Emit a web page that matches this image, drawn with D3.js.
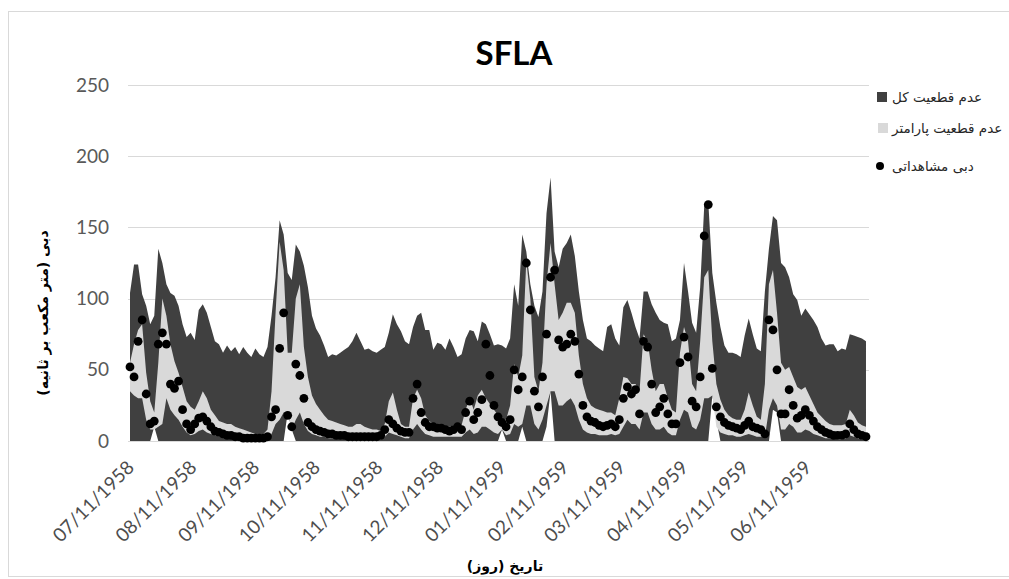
<!DOCTYPE html>
<html>
<head>
<meta charset="utf-8">
<script src="https://cdn.jsdelivr.net/npm/d3@7"></script>
<style>
  body { margin: 0; background: #fff; }
  svg { display: block; }
</style>
</head>
<body>
<svg id="chart" width="1009" height="579"></svg>
<script>
// Daily record sampled every 2 days, starting 07/11/1958
const firstDay = "07/11/1958";
const stepDays = 2;

// Total uncertainty band (upper / lower), m3/s
const totalUpper = [
  104,124,124,103,95,82,88,135,125,110,104,102,95,82,73,76,
  71,92,96,90,80,70,68,62,67,63,66,61,66,62,59,65,
  61,59,66,88,115,155,145,118,113,138,133,123,108,88,79,74,
  67,59,61,60,62,64,66,70,76,70,64,65,63,62,64,66,
  76,89,82,77,70,68,80,88,90,78,78,64,69,68,64,72,
  66,59,61,72,78,77,70,84,82,75,67,68,67,65,72,110,
  95,145,133,110,95,87,105,160,185,133,122,135,139,145,130,105,
  85,72,70,67,65,63,80,82,72,67,94,99,90,80,72,105,
  105,96,90,85,83,82,70,72,85,125,105,83,76,108,165,168,
  118,97,80,67,62,62,61,59,74,86,75,65,63,105,135,158,
  155,125,122,115,103,99,88,93,89,85,80,72,67,68,68,63,
  65,64,75,74,73,72,70
];
const totalLower = [
  0,0,0,0,0,0,10,0,0,0,0,0,0,0,0,0,
  0,0,0,0,0,0,0,0,0,0,0,0,0,0,0,0,
  0,0,0,0,0,0,0,20,8,0,0,0,0,0,0,0,
  0,0,0,0,0,0,0,0,0,0,0,0,0,0,0,0,
  0,0,0,0,0,0,0,0,0,0,0,0,0,0,0,0,
  0,0,0,0,0,0,0,0,0,0,0,0,8,0,0,0,
  0,10,0,0,0,0,0,10,35,0,0,0,0,0,0,0,
  0,0,0,0,0,0,0,0,0,0,0,0,0,0,0,0,
  0,0,0,0,0,0,0,0,0,0,0,0,0,0,0,0,
  32,15,0,0,0,0,0,0,0,0,0,0,0,0,0,22,
  20,0,0,0,0,0,0,0,0,0,0,0,0,0,0,0,
  0,0,0,0,0,0,0
];

// Parameter uncertainty band (upper / lower)
const paramUpper = [
  55,68,78,82,48,28,20,55,100,88,68,56,48,38,28,24,
  22,28,35,30,22,18,14,13,12,12,10,9,8,7,6,5,
  5,5,8,35,90,140,120,62,62,100,110,66,45,32,26,22,
  18,15,14,13,12,11,10,10,12,12,10,9,8,8,7,12,
  28,34,22,12,10,10,30,36,30,18,14,12,11,10,10,10,
  11,12,11,22,30,22,32,36,30,26,22,18,16,15,25,54,
  45,60,127,100,45,35,55,110,139,110,85,90,97,97,90,60,
  40,30,25,23,22,21,20,20,18,30,45,44,40,40,35,75,
  70,50,35,40,40,30,22,20,62,80,70,40,35,70,115,120,
  70,40,29,22,18,16,15,15,22,34,25,17,15,40,110,120,
  90,55,50,52,45,38,36,38,32,26,20,17,14,12,11,11,
  11,12,22,18,13,11,10
];
const paramLower = [
  35,32,30,30,15,8,8,10,12,30,22,18,15,10,6,4,
  5,7,8,6,5,4,3,3,2,2,2,1,1,1,1,1,
  1,1,1,5,12,15,20,20,8,15,20,12,7,5,4,3,
  3,2,2,2,2,2,1,1,1,1,1,1,1,1,1,3,
  6,5,4,3,2,2,8,12,8,5,4,3,3,3,3,3,
  3,3,3,6,8,5,6,10,10,8,6,5,8,4,5,12,
  10,12,25,25,12,8,15,25,35,35,25,25,28,30,25,15,
  8,6,5,5,4,4,4,5,4,5,10,15,12,12,8,20,
  20,12,8,8,10,6,4,4,15,22,20,10,8,15,30,30,
  32,10,6,5,4,4,3,3,4,5,4,3,3,3,22,30,
  25,8,8,12,10,6,6,8,7,5,4,3,2,2,2,1,
  1,2,4,3,2,1,1
];

// Observed discharge
const observed = [
  52,45,70,85,33,12,14,68,76,68,40,37,42,22,12,8,
  12,16,17,14,10,7,6,5,4,4,3,3,2,2,2,2,
  2,2,3,17,22,65,90,18,10,54,46,30,13,10,8,7,
  6,5,5,4,4,4,3,3,3,3,3,3,3,3,4,8,
  15,12,9,7,6,6,30,40,20,13,10,10,9,9,8,7,
  8,10,8,20,28,15,20,29,68,46,25,17,13,10,15,50,
  36,45,125,92,35,24,45,75,115,120,71,66,68,75,70,47,
  25,17,14,13,11,10,11,12,10,15,30,38,33,36,19,70,
  66,40,20,24,30,19,12,12,55,73,59,28,24,45,144,166,
  51,24,17,13,11,10,9,8,11,14,10,9,8,5,85,78,
  50,19,19,36,25,16,18,22,18,14,10,8,6,5,4,4,
  4,5,12,8,5,4,3
];

const tickLabels = [
  "07/11/1958","08/11/1958","09/11/1958","10/11/1958","11/11/1958","12/11/1958",
  "01/11/1959","02/11/1959","03/11/1959","04/11/1959","05/11/1959","06/11/1959"
];
const yTickValues = [0, 50, 100, 150, 200, 250];

const legendLabels = ["عدم قطعیت کل", "عدم قطعیت پارامتر", "دبی مشاهداتی"];
const chartTitle = "SFLA";
const xTitle = "تاریخ (روز)";
const yTitle = "دبی (متر مکعب بر ثانیه)";

// ---- drawing ----
const parse = d3.timeParse("%m/%d/%Y");
const start = parse(firstDay);
const rows = observed.map((v, i) => ({
  date: d3.timeDay.offset(start, i * stepDays),
  tu: totalUpper[i], tl: totalLower[i],
  pu: paramUpper[i], pl: paramLower[i],
  obs: v
}));

const svg = d3.select("#chart");
const plot = { left: 128, right: 869, top: 85, bottom: 441 };

const x = d3.scaleTime()
  .domain([start, parse("07/11/1959")])
  .range([130, 868]);
const y = d3.scaleLinear().domain([0, 250]).range([plot.bottom, plot.top]);

const darkFill = "#404040";
const lightFill = "#d9d9d9";
const gridColor = "#d9d9d9";
const tickColor = "#4d4d4d";

// chart frame
svg.append("rect")
  .attr("x", 8.5).attr("y", 11.5).attr("width", 1010).attr("height", 565)
  .attr("fill", "#fff").attr("stroke", "#d9d9d9").attr("stroke-width", 1);

// horizontal gridlines (the zero line doubles as the category axis line)
svg.append("g").selectAll("line").data(yTickValues).join("line")
  .attr("x1", plot.left).attr("x2", plot.right)
  .attr("y1", d => Math.round(y(d)) + 0.5).attr("y2", d => Math.round(y(d)) + 0.5)
  .attr("stroke", gridColor).attr("stroke-width", 1);

// total uncertainty band
svg.append("path").datum(rows)
  .attr("fill", darkFill)
  .attr("d", d3.area().x(d => x(d.date)).y0(d => y(d.tl)).y1(d => y(d.tu)));

// parameter uncertainty band
svg.append("path").datum(rows)
  .attr("fill", lightFill)
  .attr("d", d3.area().x(d => x(d.date)).y0(d => y(d.pl)).y1(d => y(d.pu)));

// observed discharge markers
svg.append("g").selectAll("circle").data(rows).join("circle")
  .attr("cx", d => x(d.date)).attr("cy", d => y(d.obs))
  .attr("r", 4.4).attr("fill", "#000");

// y axis
const yAxis = svg.append("g")
  .attr("transform", `translate(${plot.left},0)`)
  .call(d3.axisLeft(y).tickValues(yTickValues).tickSize(0).tickPadding(19));
yAxis.select(".domain").remove();
yAxis.selectAll("text")
  .attr("fill", "#595959")
  .style("font-family", "Lato, 'Open Sans', sans-serif")
  .style("font-size", "19px");

// x axis (labels only; the baseline is the zero gridline under the bands)
const tickDates = tickLabels.map(parse);
const xAxis = svg.append("g")
  .attr("transform", `translate(0,${plot.bottom})`)
  .call(d3.axisBottom(x).tickValues(tickDates).tickSize(0)
    .tickFormat((d, i) => tickLabels[i]));
xAxis.select(".domain").remove();
xAxis.selectAll("text")
  .attr("x", 0).attr("y", 0).attr("dy", "0.35em")
  .attr("text-anchor", "end")
  .attr("transform", "translate(0,23) rotate(-45)")
  .attr("fill", tickColor)
  .style("font-family", "Lato, 'Open Sans', sans-serif")
  .style("font-size", "19px");

// title
svg.append("text")
  .attr("x", 514).attr("y", 65).attr("text-anchor", "middle")
  .style("font-family", "Lato, 'Open Sans', sans-serif")
  .style("font-size", "33px").style("font-weight", "bold")
  .attr("fill", "#000").text(chartTitle);

// axis titles
svg.append("text")
  .attr("transform", "translate(48,313) rotate(-90)")
  .attr("text-anchor", "middle")
  .style("font-family", "'DejaVu Sans', sans-serif")
  .style("font-size", "14px").style("font-weight", "bold")
  .attr("fill", "#000").text(yTitle);

svg.append("text")
  .attr("x", 505).attr("y", 571).attr("text-anchor", "middle")
  .style("font-family", "'DejaVu Sans', sans-serif")
  .style("font-size", "14px").style("font-weight", "bold")
  .attr("fill", "#000").text(xTitle);

// legend
const legend = svg.append("g");
const legendY = [97, 128, 166];
legend.append("rect").attr("x", 877).attr("y", legendY[0] - 5).attr("width", 10).attr("height", 10).attr("fill", darkFill);
legend.append("rect").attr("x", 878).attr("y", legendY[1] - 5).attr("width", 10).attr("height", 10).attr("fill", lightFill);
legend.append("circle").attr("cx", 880).attr("cy", legendY[2]).attr("r", 4).attr("fill", "#000");
legend.selectAll("text.lg").data(legendLabels).join("text")
  .attr("class", "lg")
  .attr("x", 892).attr("y", (d, i) => legendY[i]).attr("dy", "0.35em")
  .attr("text-anchor", "start")
  .style("font-family", "'DejaVu Sans', sans-serif")
  .style("font-size", "13.5px")
  .attr("fill", "#262626").text(d => d);
</script>
</body>
</html>
